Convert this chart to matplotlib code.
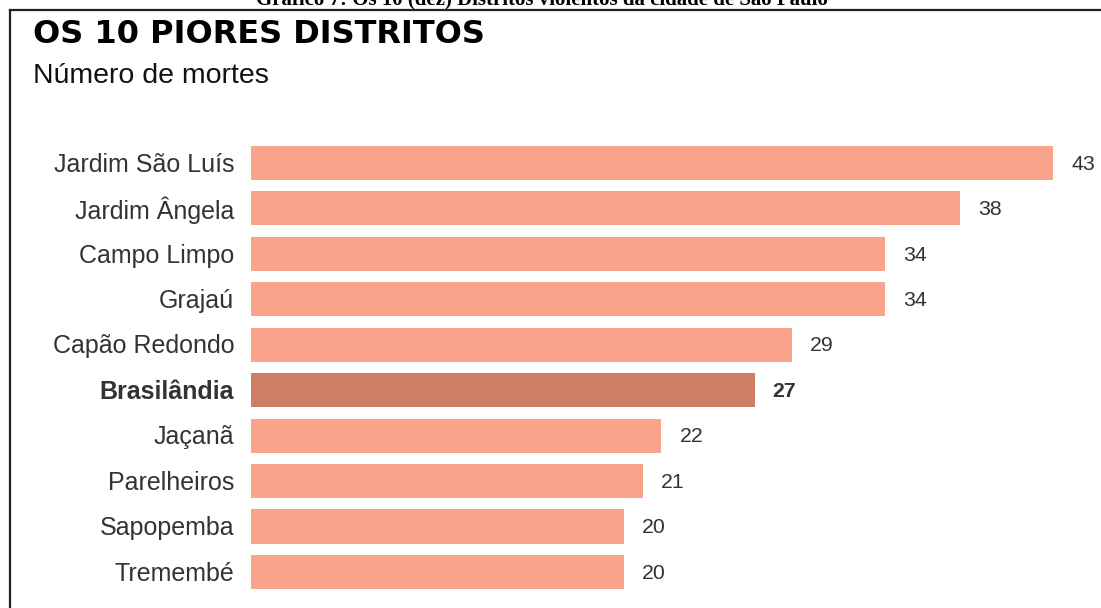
import matplotlib
matplotlib.use("Agg")
import matplotlib.pyplot as plt
from matplotlib.lines import Line2D

categories = ["Jardim São Luís", "Jardim Ângela", "Campo Limpo", "Grajaú",
              "Capão Redondo", "Brasilândia", "Jaçanã", "Parelheiros",
              "Sapopemba", "Tremembé"]
values = [43, 38, 34, 34, 29, 27, 22, 21, 20, 20]
highlight = "Brasilândia"

title = "OS 10 PIORES DISTRITOS"
subtitle = "Número de mortes"
caption = "Gráfico 7: Os 10 (dez) Distritos violentos da cidade de São Paulo"

W, H = 1101, 608
fig = plt.figure(figsize=(W / 100, H / 100), dpi=100)
fig.patch.set_facecolor("white")

# axes placement in pixels
x0, x1 = 251, 1053
y_top, y_bot = 140.3, 594.7
ax = fig.add_axes([x0 / W, 1 - y_bot / H, (x1 - x0) / W, (y_bot - y_top) / H])

base_col = "#F9A48A"
hi_col = "#CD7F66"
text_col = "#333333"

ypos = list(range(len(categories)))
colors = [hi_col if c == highlight else base_col for c in categories]
ax.barh(ypos, values, height=0.75, color=colors, edgecolor="none")
ax.set_xlim(0, 43)
ax.set_ylim(len(categories) - 0.5, -0.5)
ax.axis("off")

for y, c, v in zip(ypos, categories, values):
    bold = c == highlight
    ax.annotate(c, xy=(0, y), xytext=(-12, -1.2), textcoords="offset points",
                ha="right", va="center", fontsize=18, color=text_col,
                family="Liberation Sans", fontweight="bold" if bold else "normal")
    ax.annotate(str(v), xy=(v, y), xytext=(13, -0.8), textcoords="offset points",
                ha="left", va="center", fontsize=15.3, color=text_col,
                family="Liberation Sans", fontweight="bold" if bold else "normal")

fig.text(33 / W, 1 - 43 / H, title, fontsize=23, fontweight="bold",
         family="DejaVu Sans", color="black", va="baseline", ha="left")
fig.text(33 / W, 1 - 83 / H, subtitle, fontsize=20.5,
         family="Liberation Sans", color="#111111", va="baseline", ha="left")
fig.text(542 / W, 1 - 4 / H, caption, fontsize=15, fontweight="bold",
         family="Liberation Serif", color="black", va="baseline", ha="center")

# frame lines (top and left)
fig.add_artist(Line2D([9.5 / W, 1.0], [1 - 9.5 / H, 1 - 9.5 / H],
                      transform=fig.transFigure, color="#222222", lw=1.6))
fig.add_artist(Line2D([9.5 / W, 9.5 / W], [0, 1 - 9.5 / H],
                      transform=fig.transFigure, color="#222222", lw=1.6))

fig.savefig("out.png", dpi=100)
